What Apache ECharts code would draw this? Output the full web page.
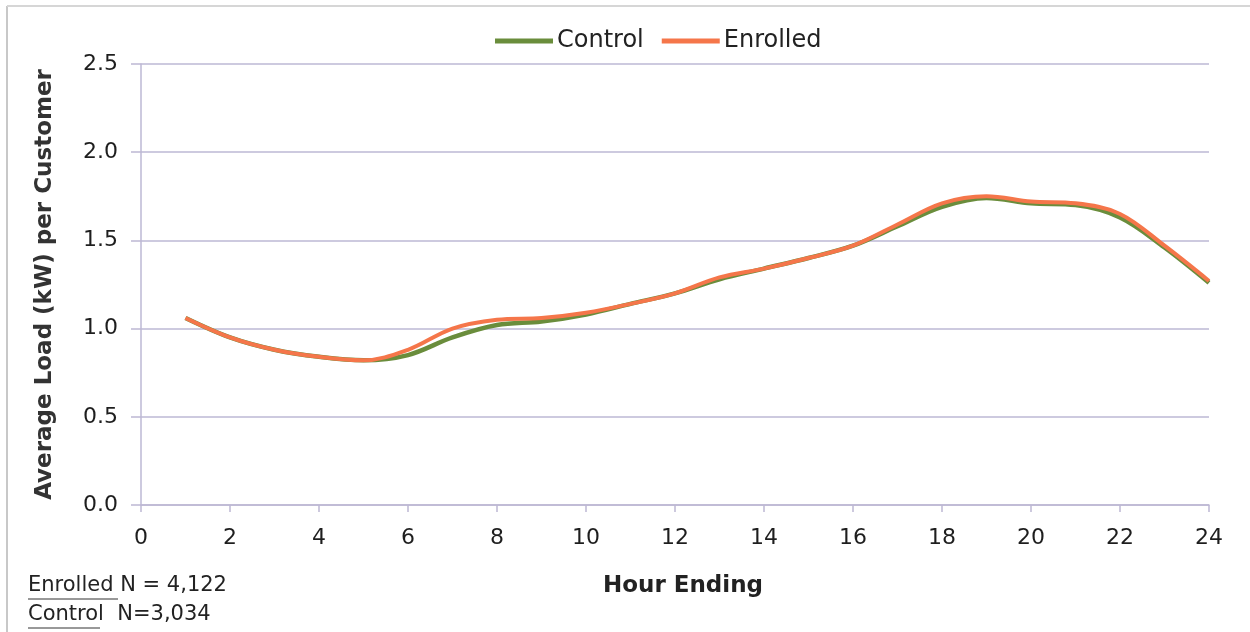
<!DOCTYPE html>
<html>
<head>
<meta charset="utf-8">
<style>
  html, body { margin: 0; padding: 0; background: #fff; }
  #chart { width: 1250px; height: 632px; }
</style>
<script src="https://cdn.jsdelivr.net/npm/echarts@6/dist/echarts.min.js"></script>
</head>
<body>
<div id="chart"></div>
<script>
// Average hourly load per customer, enrolled vs. control group
const hours = [1, 2, 3, 4, 5, 6, 7, 8, 9, 10, 11, 12, 13, 14, 15, 16, 17, 18, 19, 20, 21, 22, 23, 24];
const controlLoad  = [1.06, 0.95, 0.88, 0.84, 0.82, 0.85, 0.95, 1.02, 1.04, 1.08, 1.14, 1.20, 1.28, 1.34, 1.40, 1.47, 1.58, 1.69, 1.74, 1.71, 1.70, 1.63, 1.46, 1.26];
const enrolledLoad = [1.06, 0.95, 0.88, 0.84, 0.82, 0.88, 1.00, 1.05, 1.06, 1.09, 1.14, 1.20, 1.29, 1.34, 1.40, 1.47, 1.59, 1.71, 1.75, 1.72, 1.71, 1.65, 1.47, 1.27];
const seriesNames = ['Control', 'Enrolled'];
const footnotes = ['Enrolled N = 4,122', 'Control  N=3,034'];

const FONT = '"DejaVu Sans", "Liberation Sans", Arial, sans-serif';
const GRID_COLOR = '#bdb8d4';

const chart = echarts.init(document.getElementById('chart'), null, { renderer: 'canvas' });

const pairs = (ys) => hours.map((h, i) => [h, ys[i]]);

chart.setOption({
  backgroundColor: '#ffffff',
  animation: false,
  textStyle: { fontFamily: FONT },
  legend: {
    data: seriesNames,
    top: 24,
    left: 490,
    itemWidth: 58,
    itemHeight: 5,
    itemGap: 18,
    icon: 'rect',
    textStyle: { fontFamily: FONT, fontSize: 24, color: '#222', padding: [0, 0, 0, -1] }
  },
  grid: { left: 141, right: 41, top: 64, bottom: 127, containLabel: false },
  xAxis: {
    type: 'value',
    min: 0, max: 24, interval: 2,
    name: 'Hour Ending',
    nameLocation: 'middle',
    nameGap: 70,
    nameTextStyle: { fontFamily: FONT, fontSize: 23, fontWeight: 'bold', color: '#222', padding: [0, 0, 0, 16] },
    axisLine: { show: true, lineStyle: { color: GRID_COLOR, width: 1.5 } },
    axisTick: { show: true, length: 7, inside: false, lineStyle: { color: GRID_COLOR, width: 1.5 } },
    axisLabel: { fontFamily: FONT, fontSize: 22, color: '#1e1e1e', margin: 22 },
    splitLine: { show: false }
  },
  yAxis: {
    type: 'value',
    min: 0, max: 2.5, interval: 0.5,
    name: 'Average Load (kW) per Customer',
    nameLocation: 'middle',
    nameGap: 84,
    nameRotate: 90,
    nameTextStyle: { fontFamily: FONT, fontSize: 23, fontWeight: 'bold', color: '#333' },
    axisLine: { show: true, lineStyle: { color: GRID_COLOR, width: 1.5 } },
    axisTick: { show: true, length: 10, inside: false, lineStyle: { color: GRID_COLOR, width: 1.5 } },
    axisLabel: { fontFamily: FONT, fontSize: 22, color: '#1e1e1e', margin: 23, formatter: (v) => v.toFixed(1) },
    splitLine: { show: true, lineStyle: { color: GRID_COLOR, width: 1.5 } }
  },
  series: [
    {
      name: seriesNames[0],
      type: 'line',
      data: pairs(controlLoad),
      smooth: 0.35,
      showSymbol: false,
      color: '#6a8d3c',
      lineStyle: { color: '#6a8d3c', width: 4.5 },
      z: 2
    },
    {
      name: seriesNames[1],
      type: 'line',
      data: pairs(enrolledLoad),
      smooth: 0.35,
      showSymbol: false,
      color: '#f5764a',
      lineStyle: { color: '#f5764a', width: 4 },
      z: 3
    }
  ],
  graphic: [
    // frame lines along the left and top edges
    { type: 'line', shape: { x1: 7, y1: 6, x2: 7, y2: 632 }, style: { stroke: '#c8c8c8', lineWidth: 2 } },
    { type: 'line', shape: { x1: 7, y1: 6, x2: 1250, y2: 6 }, style: { stroke: '#d6d6d6', lineWidth: 2 } },
    { type: 'text', left: 28, top: 575, style: { text: footnotes[0], font: '21px ' + FONT, fill: '#222' } },
    { type: 'text', left: 28, top: 604, style: { text: footnotes[1], font: '21px ' + FONT, fill: '#222' } },
    { type: 'line', shape: { x1: 28, y1: 599, x2: 118, y2: 599 }, style: { stroke: '#333', lineWidth: 1 } },
    { type: 'line', shape: { x1: 28, y1: 628, x2: 100, y2: 628 }, style: { stroke: '#333', lineWidth: 1 } }
  ]
});
</script>
</body>
</html>
